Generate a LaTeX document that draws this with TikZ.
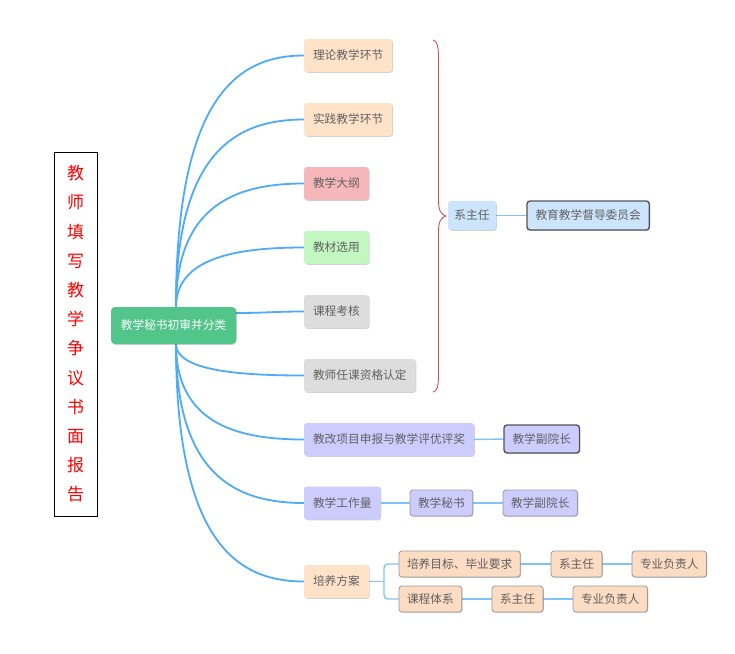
\documentclass[tikz,border=0pt]{standalone}
\usepackage{fontspec}
\setmainfont{Noto Sans CJK SC}
\usetikzlibrary{shadows,calc}
\definecolor{txt}{HTML}{616161}
\definecolor{peach}{HTML}{FFE3C9}
\definecolor{peachb}{HTML}{FCDCC2}
\definecolor{pinkc}{HTML}{F5B7B9}
\definecolor{greenl}{HTML}{C2F7C2}
\definecolor{grayc}{HTML}{DDDDDD}
\definecolor{lav}{HTML}{CCCCFF}
\definecolor{blueb}{HTML}{CCE5FC}
\definecolor{centerg}{HTML}{52C58B}
\definecolor{mainline}{HTML}{4DABF7}
\definecolor{subline}{HTML}{80C4F7}
\definecolor{bracec}{HTML}{D05050}
\definecolor{darkb}{HTML}{555555}
\definecolor{lightb}{HTML}{999999}
\pgfdeclarelayer{bg}
\pgfsetlayers{bg,main}
\begin{document}
\begin{tikzpicture}[x=1pt,y=-1pt,
  every node/.style={inner sep=0pt, outer sep=0pt},
  box/.style={rounded corners=3pt, text=txt, font=\fontsize{11.7}{14}\selectfont,
    inner xsep=9pt, minimum height=33pt, anchor=west,
    drop shadow={shadow xshift=0.8pt, shadow yshift=-0.8pt, opacity=0.18, fill=black}},
  subbox/.style={box, inner xsep=8pt, minimum height=26pt},
  mainc/.style={draw=mainline, line width=1.8pt},
  sub/.style={draw=subline, line width=1.4pt},
  branch/.style={to path={.. controls ($(\tikztostart)!0.85!(\tikztostart |- \tikztotarget)$) and ($(\tikztotarget)!0.5!(\tikztotarget -| \tikztostart)$) .. (\tikztotarget)}}
]
\useasboundingbox (0,0) rectangle (735,653);
\begin{pgfonlayer}{bg}
\fill[white] (0,0) rectangle (735,653);
\end{pgfonlayer}

% left report box
\node[draw=black, line width=0.8pt, minimum width=43pt, minimum height=364pt,
  text=red, align=center, font=\fontsize{17}{29.2}\selectfont] (lb) at (75.5,334)
  {教\\师\\填\\写\\教\\学\\争\\议\\书\\面\\报\\告};

% center node
\node[fill=centerg, rounded corners=4pt, text=white, font=\fontsize{11.7}{14}\selectfont,
  minimum width=125pt, minimum height=37pt,
  drop shadow={shadow xshift=0.8pt, shadow yshift=-0.8pt, opacity=0.18, fill=black}] (c) at (173.5,325.5) {教学秘书初审并分类};
\coordinate (ctop) at (176,307);
\coordinate (cbot) at (176,344);

% first level
\node[box, fill=peach] (lt) at (304,55.5) {理论教学环节};
\node[box, fill=peach] (sj) at (304,119.5) {实践教学环节};
\node[box, fill=pinkc] (dg) at (304,183.5) {教学大纲};
\node[box, fill=greenl] (jc) at (304,247.5) {教材选用};
\node[box, fill=grayc] (kh) at (304,311.5) {课程考核};
\node[box, fill=grayc] (zg) at (304,375.5) {教师任课资格认定};
\node[box, fill=lav] (jg) at (304,439.5) {教改项目申报与教学评优评奖};
\node[box, fill=lav] (gz) at (304,503) {教学工作量};
\node[box, fill=peach] (pf) at (304,581.5) {培养方案};

% second level
\node[box, fill=blueb, minimum width=48pt, inner xsep=6pt, minimum height=29pt] (xzr) at (448,215.5) {系主任};
\node[box, fill=blueb, draw=darkb, line width=1.4pt, inner xsep=8.5pt, minimum height=29pt] (dd) at (527,215.5) {教育教学督导委员会};
\node[box, fill=lav, draw=darkb, line width=1.4pt, inner xsep=8.5pt, minimum height=28pt] (fy1) at (504,439) {教学副院长};
\node[subbox, fill=lav, draw=lightb, line width=0.8pt] (ms) at (410,503) {教学秘书};
\node[subbox, fill=lav, draw=lightb, line width=0.8pt] (fy2) at (503,503) {教学副院长};
\node[subbox, fill=peachb, draw=lightb, line width=0.8pt] (mb) at (399,564) {培养目标、毕业要求};
\node[subbox, fill=peachb, draw=lightb, line width=0.8pt] (x1) at (551,564) {系主任};
\node[subbox, fill=peachb, draw=lightb, line width=0.8pt] (f1) at (632,564) {专业负责人};
\node[subbox, fill=peachb, draw=lightb, line width=0.8pt] (kc) at (399,599) {课程体系};
\node[subbox, fill=peachb, draw=lightb, line width=0.8pt] (x2) at (492,599) {系主任};
\node[subbox, fill=peachb, draw=lightb, line width=0.8pt] (f2) at (573,599) {专业负责人};

\begin{pgfonlayer}{bg}
% main curves
\draw[mainc] (ctop) to[branch] (lt.west);
\draw[mainc] (ctop) to[branch] (sj.west);
\draw[mainc] (ctop) to[branch] (dg.west);
\draw[mainc] (ctop) to[branch] (jc.west);
\draw[mainc] ([yshift=12.5pt]c.east) .. controls +(30,0) and +(-30,0) .. (kh.west);
\draw[mainc] (cbot) to[branch] (zg.west);
\draw[mainc] (cbot) to[branch] (jg.west);
\draw[mainc] (cbot) to[branch] (gz.west);
\draw[mainc] (cbot) to[branch] (pf.west);

% sub lines
\draw[sub] (xzr.east) -- (dd.west);
\draw[sub] (jg.east) -- (fy1.west);
\draw[sub] (gz.east) -- (ms.west);
\draw[sub] (ms.east) -- (fy2.west);
\coordinate (fork) at (384,581.5);
\draw[sub] (pf.east) -- (fork);
\draw[sub, rounded corners=4pt] (fork) |- (mb.west);
\draw[sub, rounded corners=4pt] (fork) |- (kc.west);
\draw[sub] (mb.east) -- (x1.west);
\draw[sub] (x1.east) -- (f1.west);
\draw[sub] (kc.east) -- (x2.west);
\draw[sub] (x2.east) -- (f2.west);
\end{pgfonlayer}

% brace
\draw[bracec, line width=0.9pt] (433,40) .. controls (437,41) and (438.5,46) .. (438.5,58)
  -- (438.5,200) .. controls (438.5,211) and (441,214.5) .. (446,216)
  .. controls (441,217.5) and (438.5,221) .. (438.5,232)
  -- (438.5,375) .. controls (438.5,387) and (437,391) .. (433,392);
\end{tikzpicture}
\end{document}
